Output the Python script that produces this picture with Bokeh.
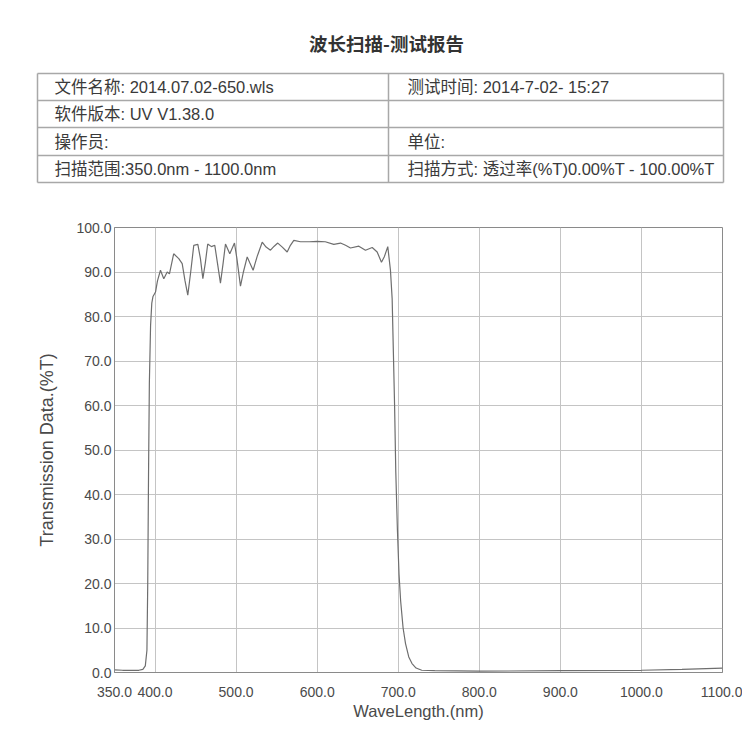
from bokeh.plotting import figure
from bokeh.models import Range1d, FixedTicker, PrintfTickFormatter
from bokeh.layouts import column
from bokeh.embed import file_html
from bokeh.resources import INLINE
from bokeh.core.properties import value

# ---------------- data ----------------
report_title = "波长扫描-测试报告"
left_cells = ["文件名称: 2014.07.02-650.wls", "软件版本: UV V1.38.0", "操作员:", "扫描范围:350.0nm - 1100.0nm"]
right_cells = ["测试时间: 2014-7-02- 15:27", "", "单位:", "扫描方式: 透过率(%T)0.00%T - 100.00%T"]

wavelength = [350, 360, 370, 380, 385, 388, 390, 391, 392, 393, 394.5, 396, 397.5,
              400.6, 403, 406.7, 410.8, 415, 417.8, 423, 429.3, 433.5, 437, 440.4,
              444, 447.8, 452.8, 456, 459, 462, 465, 469.6, 473.7, 477, 480.7, 484,
              486.9, 492.2, 498, 501, 505.4, 509, 513.7, 517, 521, 526, 532.2, 537,
              542.4, 547, 551.4, 557, 563, 567, 571.2, 579.4, 590, 600, 610, 620.5,
              628.8, 635, 641.1, 651.4, 659.6, 667.9, 674, 679.3, 683, 687.1, 690.4,
              692.5, 694, 695.5, 697, 699, 701, 703, 706, 709, 713, 717, 722, 729,
              745, 800, 900, 1000, 1050, 1100]
transmission = [0.6, 0.5, 0.5, 0.5, 0.7, 1.5, 5, 20, 45, 65, 78, 83, 84.5,
                85.5, 88, 90.4, 88.5, 90, 89.6, 94.1, 93, 91.9, 88, 84.8,
                90, 96, 96.2, 93, 88.5, 92, 96.3, 95.7, 96, 92, 87.5, 92,
                96.3, 94.1, 96.5, 93, 86.8, 90, 93.4, 92, 90.4, 93.5, 96.7, 95.6,
                94.9, 95.8, 96.5, 95.6, 94.5, 96, 97.1, 96.8, 96.8, 96.9, 96.8, 96.2,
                96.5, 96, 95.4, 95.8, 94.9, 95.5, 94.5, 92.2, 93.5, 95.7, 90.4,
                84, 72, 60, 45, 32, 22, 16, 10, 6.5, 3.5, 2, 1, 0.5,
                0.4, 0.3, 0.4, 0.5, 0.7, 1.0]

x_ticks = [350, 400, 500, 600, 700, 800, 900, 1000, 1100]
y_ticks = [0, 10, 20, 30, 40, 50, 60, 70, 80, 90, 100]

# ---------------- header (title + info table) ----------------
W = 742
HH = 213
hdr = figure(width=W, height=HH, x_range=Range1d(0, W), y_range=Range1d(HH, 0),
             output_backend="svg", toolbar_location=None, min_border=0,
             min_border_left=0, min_border_right=0, min_border_top=0, min_border_bottom=0)
hdr.frame_align = False
hdr.axis.visible = False
hdr.grid.visible = False
hdr.outline_line_color = None

txt_font = value("Liberation Sans, Noto Sans CJK SC")
hdr.text(x=[386], y=[42], text=[report_title], text_font=value("Noto Sans CJK SC"),
         text_font_size="18.5px", text_font_style="bold", text_color="#333333",
         text_align="center", text_baseline="middle")

tl, tr, tdiv = 37, 723, 388
row_y = [73, 100, 127, 155, 182]
hdr.segment(x0=[tl] * len(row_y), y0=row_y, x1=[tr] * len(row_y), y1=row_y,
            line_color="#a8a8a8", line_width=1.5)
hdr.segment(x0=[tl, tr, tdiv], y0=[row_y[0]] * 3, x1=[tl, tr, tdiv], y1=[row_y[-1]] * 3,
            line_color="#a8a8a8", line_width=1.5)
centers = [(row_y[i] + row_y[i + 1]) / 2 for i in range(4)]
hdr.text(x=[54] * 4, y=centers, text=left_cells, text_font=txt_font, text_font_size="16.5px",
         text_color="#3a3a3a", text_baseline="middle", text_align="left")
hdr.text(x=[407] * 4, y=centers, text=right_cells, text_font=txt_font, text_font_size="16.5px",
         text_color="#3a3a3a", text_baseline="middle", text_align="left")

# ---------------- chart ----------------
p = figure(width=W, height=529, x_range=Range1d(350, 1100), y_range=Range1d(0, 100),
           output_backend="svg", toolbar_location=None,
           min_border_left=114, min_border_right=20, min_border_top=14, min_border_bottom=70)
p.frame_align = False

p.line(wavelength, transmission, line_color="#6e6e6e", line_width=1.2)

p.xaxis.ticker = FixedTicker(ticks=x_ticks)
p.yaxis.ticker = FixedTicker(ticks=y_ticks)
p.xaxis.formatter = PrintfTickFormatter(format="%.1f")
p.yaxis.formatter = PrintfTickFormatter(format="%.1f")
p.xgrid.ticker = FixedTicker(ticks=x_ticks)
p.ygrid.ticker = FixedTicker(ticks=y_ticks)
p.grid.grid_line_color = "#c4c4c4"
p.grid.grid_line_width = 1

for ax in (p.xaxis, p.yaxis):
    ax.major_tick_out = 0
    ax.major_tick_in = 0
    ax.minor_tick_out = 0
    ax.minor_tick_in = 0
    ax.axis_line_color = "#8a8a8a"
    ax.major_label_text_font = "Liberation Sans"
    ax.major_label_text_font_size = "14px"
    ax.major_label_text_color = "#4a4a4a"
    ax.axis_label_text_font = "Liberation Sans"
    ax.axis_label_text_font_style = "normal"
    ax.axis_label_text_color = "#4a4a4a"

p.xaxis.axis_label = "WaveLength.(nm)"
p.yaxis.axis_label = "Transmission Data.(%T)"
p.xaxis.axis_label_text_font_size = "16.5px"
p.yaxis.axis_label_text_font_size = "18px"
p.xaxis.major_label_standoff = 14
p.yaxis.major_label_standoff = 3
p.xaxis.axis_label_standoff = 2
p.yaxis.axis_label_standoff = 16
p.outline_line_color = "#8a8a8a"
p.outline_line_width = 1

layout = column(hdr, p, spacing=0)
open("out.html", "w").write(file_html(layout, INLINE))
